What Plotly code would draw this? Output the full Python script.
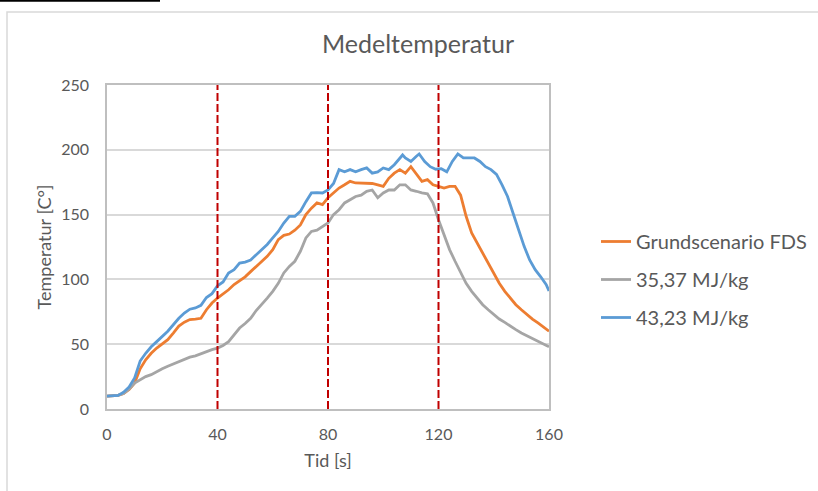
import plotly.graph_objects as go

# ---- data ----
time_2s = list(range(0, 161, 2))
grund = [10, 10, 10.5, 12, 15, 20, 31, 38, 43, 47, 50, 53.5, 58.6, 64, 67, 69, 69.4, 70, 76.6, 81.8,
         85.6, 88.7, 92, 96, 99, 102, 106, 110, 114, 117.8, 123, 130.7, 134, 135, 138, 142, 150, 155, 159, 157.7,
         163, 166.7, 170.5, 173, 175.7, 174.4, 174.4, 174.4, 174, 173, 171.8, 178, 182, 184.7, 182, 187, 181, 175.7, 177, 173,
         171.8, 170.5, 171.8, 171.8, 165, 148.7, 135.8, 128, 120, 112.6, 105, 97, 90.8, 85.6, 80.5, 76.6, 72.8, 69.4, 66.4, 63.3,
         60]
mj3537 = [10, 10, 10.5, 12, 15.5, 20, 22.6, 25, 26.5, 29, 31, 33, 34.7, 36, 38, 40, 41, 42.7, 44.5, 45.8,
          47, 49, 52, 57, 62.5, 66, 70, 76, 80.5, 85.6, 90.8, 97, 105, 110, 114, 121.7, 132, 137, 138, 141,
          143.5, 150, 153.8, 159, 161.5, 164, 165, 168, 169, 163, 166.7, 169, 169, 173, 173, 169, 168, 166.7, 166, 159,
          146, 134.5, 123, 114, 105, 97, 90.8, 85.6, 80.5, 76.6, 72.8, 69.4, 66.8, 63.8, 61.2, 58.6, 56.6, 54, 52, 50,
          48]
time_blue = [0, 2, 4, 6, 8, 10, 11, 12, 14, 16, 18, 20, 22, 24, 26, 28, 30, 32, 34, 36, 38, 40, 42, 44, 46, 48, 50,
             52, 54, 56, 58, 60, 62, 64, 66, 68, 70, 72, 74, 76, 78, 80, 82, 84, 86, 88, 90, 92, 94, 96, 98, 100,
             102, 104, 106, 107, 108, 110, 112, 113, 115, 117, 119, 121, 123, 125, 127, 129, 131, 133, 135, 137,
             139, 141, 143, 145, 147, 149, 151, 153, 155, 157, 159, 160]
mj4323 = [10, 10, 10.5, 13, 17, 24, 31, 37, 43, 48, 52, 56, 60, 65, 70, 74, 77, 78, 80, 86, 89, 95, 98, 105, 107.5,
          112.6, 113.4, 115, 119, 123, 127, 132, 137, 143.5, 148.7, 148.7, 152.5, 160, 166.7, 167, 166.7, 169, 174,
          184.7, 183, 184.7, 183, 184.7, 186, 182, 183, 186, 184.7, 188.5, 193.7, 196, 193.7, 191, 195, 196.8, 191,
          187, 185, 185.4, 183, 191, 196.8, 193.7, 193.7, 193.7, 191, 187, 184.7, 181, 173, 164, 151, 138, 125.5,
          115, 107.5, 102, 96, 91]
markers_x = [40, 80, 120]
x_ticks = [0, 40, 80, 120, 160]
y_ticks = [0, 50, 100, 150, 200, 250]

series_names = ["Grundscenario FDS", "35,37 MJ/kg", "43,23 MJ/kg"]
colors = ["#ED7D31", "#A5A5A5", "#5B9BD5"]

FONT = "Lato"
TXT = "#595959"

fig = go.Figure()
for i, (xs, ys) in enumerate([(time_2s, grund), (time_2s, mj3537), (time_blue, mj4323)]):
    fig.add_trace(go.Scatter(x=xs, y=ys, mode="lines", name=series_names[i],
                             line=dict(color=colors[i], width=2.8), legendgroup=str(i)))

for mx in markers_x:
    fig.add_shape(type="line", xref="x", yref="y", x0=mx, x1=mx, y0=0, y1=250,
                  line=dict(color="#C00000", width=2, dash="8px,3px"), layer="above")

# plot area geometry (px)
L, R, T, B = 107, 549, 85, 409
W, H = 818, 491
pw, ph = R - L, B - T

def px2x(px):
    return (px - L) / pw

def py2y(py):
    return (B - py) / ph

# outer chart border
fig.add_shape(type="rect", xref="paper", yref="paper",
              x0=px2x(7), x1=px2x(840), y0=py2y(12), y1=py2y(520),
              line=dict(color="#D9D9D9", width=1.5), layer="below")
# cut-off underline of document text at top
fig.add_shape(type="line", xref="paper", yref="paper",
              x0=px2x(-5), x1=px2x(160), y0=py2y(0.8), y1=py2y(0.8),
              line=dict(color="#000000", width=2))

fig.update_layout(
    width=W, height=H, autosize=False,
    margin=dict(l=L, r=W - R, t=T, b=H - B, autoexpand=False),
    paper_bgcolor="white", plot_bgcolor="white",
    font=dict(family=FONT, color=TXT, size=16),
    title=dict(text="Medeltemperatur", x=px2x(418), xref="paper", xanchor="center",
               y=1 - 44 / H, yref="container", yanchor="middle",
               font=dict(family=FONT, size=25, color=TXT)),
    showlegend=True,
    legend=dict(x=px2x(596), xanchor="left", y=py2y(222), yanchor="top",
                font=dict(family=FONT, size=20, color=TXT),
                traceorder="grouped", tracegroupgap=9, bgcolor="rgba(0,0,0,0)"),
)

fig.update_xaxes(range=[0, 160], tickvals=x_ticks, ticks="", showgrid=False, zeroline=False,
                 showline=True, linecolor="#BFBFBF", linewidth=1.5, mirror=True,
                 ticklabelstandoff=10, tickfont=dict(family=FONT, size=16, color=TXT),
                 title=dict(text="Tid [s]", font=dict(family=FONT, size=18, color=TXT), standoff=12))
fig.update_yaxes(range=[0, 250], tickvals=y_ticks, ticks="", showgrid=True, gridcolor="#D9D9D9", gridwidth=1.5,
                 zeroline=False, showline=True, linecolor="#BFBFBF", linewidth=1.5, mirror=True,
                 ticklabelstandoff=13, tickfont=dict(family=FONT, size=16, color=TXT),
                 title=dict(text="Temperatur [C°]", font=dict(family=FONT, size=18, color=TXT), standoff=5))

fig.write_html("out.html", config={"displayModeBar": False},
               post_script="document.body.style.margin='0';document.body.style.overflow='hidden';")
